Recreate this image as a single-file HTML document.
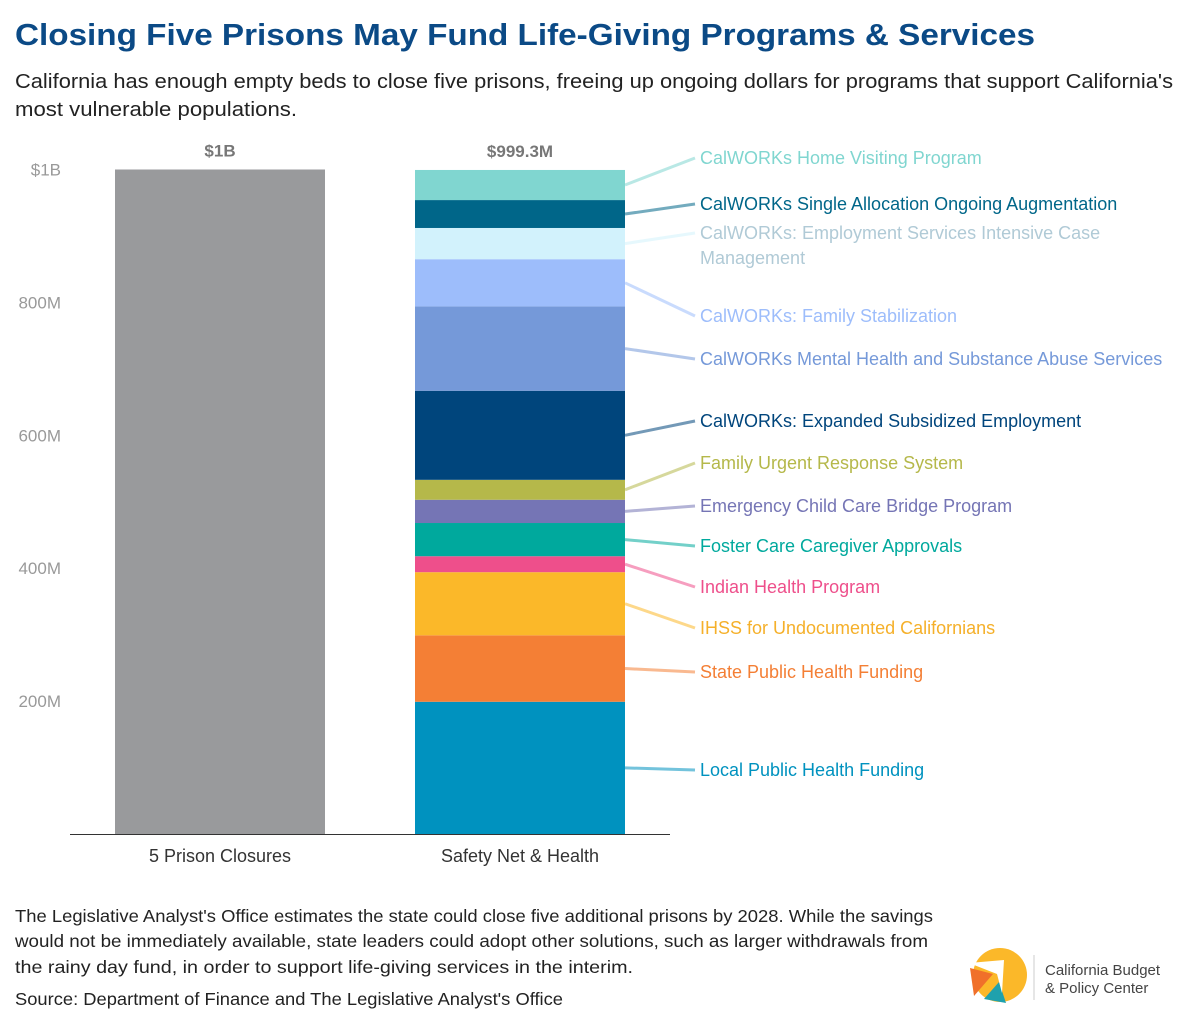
<!DOCTYPE html>
<html><head><meta charset="utf-8"><style>
html,body{margin:0;padding:0;background:#fff;}
svg{display:block;font-family:"Liberation Sans",sans-serif;}
</style></head><body>
<svg id="chart" width="1200" height="1026" viewBox="0 0 1200 1026" xmlns="http://www.w3.org/2000/svg">
<text x="15" y="45" font-size="31" font-weight="bold" fill="#0b4a86" textLength="1020" lengthAdjust="spacingAndGlyphs">Closing Five Prisons May Fund Life-Giving Programs &amp; Services</text>
<text x="15" y="88" font-size="20" fill="#222" textLength="1158" lengthAdjust="spacingAndGlyphs">California has enough empty beds to close five prisons, freeing up ongoing dollars for programs that support California's</text>
<text x="15" y="116" font-size="20" fill="#222" textLength="282" lengthAdjust="spacingAndGlyphs">most vulnerable populations.</text>
<g id="axis"></g>
<g id="bars"></g>
<g id="labels"></g>
<line x1="70" y1="834.5" x2="670" y2="834.5" stroke="#333" stroke-width="1"/>
<text x="220" y="862" font-size="18" fill="#333" text-anchor="middle">5 Prison Closures</text>
<text x="520" y="862" font-size="18" fill="#333" text-anchor="middle">Safety Net &amp; Health</text>
<text x="15" y="922" font-size="17.5" fill="#222" textLength="918" lengthAdjust="spacingAndGlyphs">The Legislative Analyst's Office estimates the state could close five additional prisons by 2028. While the savings</text>
<text x="15" y="947" font-size="17.5" fill="#222" textLength="913" lengthAdjust="spacingAndGlyphs">would not be immediately available, state leaders could adopt other solutions, such as larger withdrawals from</text>
<text x="15" y="973" font-size="17.5" fill="#222" textLength="618" lengthAdjust="spacingAndGlyphs">the rainy day fund, in order to support life-giving services in the interim.</text>
<text x="15" y="1005" font-size="17.5" fill="#222" textLength="548" lengthAdjust="spacingAndGlyphs">Source: Department of Finance and The Legislative Analyst's Office</text>
<g>
<circle cx="1000" cy="975" r="27" fill="#fbb829"/>
<path d="M970 968 L993 974 L974 996 Z" fill="#f0702a"/>
<path d="M984 999 L999 982 L1006 1003 Z" fill="#1fa1ad"/>
<path d="M969 963 L1004 960 L1002 993 L997 974 Z" fill="#fff"/>
<line x1="1034" y1="955" x2="1034" y2="1000" stroke="#ccc" stroke-width="1"/>
<text x="1045" y="975" font-size="15" fill="#444">California Budget</text>
<text x="1045" y="993" font-size="15" fill="#444">&amp; Policy Center</text>
</g>
</svg>
<script>
const categories = ["5 Prison Closures","Safety Net & Health"];
const prisonValues = [1000];
const segNames = ["Local Public Health Funding","State Public Health Funding","IHSS for Undocumented Californians","Indian Health Program","Foster Care Caregiver Approvals","Emergency Child Care Bridge Program","Family Urgent Response System","CalWORKs: Expanded Subsidized Employment","CalWORKs Mental Health and Substance Abuse Services","CalWORKs: Family Stabilization","CalWORKs: Employment Services Intensive Case Management","CalWORKs Single Allocation Ongoing Augmentation","CalWORKs Home Visiting Program"];
const segValues = [199,100,95,24,50,35,30,134,127,71,47,42,45.3];
const yTicks = [200,400,600,800,1000];
const yTickLabels = ["200M","400M","600M","800M","$1B"];
const totalLabels = ["$1B","$999.3M"];

const colors = ["#0092bf","#f47f35","#fbb829","#ee4f8b","#00a99d","#7575b5","#b5b84a","#00457c","#7599d9","#9dbdfb","#d2f2fc","#006689","#80d6d0"];
const textColors = ["#0092bf","#f47f35","#f5b02a","#ee4f8b","#00a99d","#7575b5","#b5b84a","#00457c","#7599d9","#9dbdfb","#b0cad6","#006689","#80d6d0"];
const labelY = [770,672,628,587,546,506,463,421,359,316,233,204,158];
const NS="http://www.w3.org/2000/svg";
const y0=834, pxPerM=0.6645;
const yScale=v=>y0-v*pxPerM;
const xBand=i=>[115,415][i];
const bw=210;
function mk(tag,attrs,parent){const e=document.createElementNS(NS,tag);for(const k in attrs)e.setAttribute(k,attrs[k]);parent.appendChild(e);return e;}
const axis=document.getElementById('axis'),bars=document.getElementById('bars'),labels=document.getElementById('labels');
yTicks.forEach((t,i)=>{
  const e=mk('text',{x:61,y:yScale(t)+6,'font-size':17,fill:'#999','text-anchor':'end'},axis);
  e.textContent=yTickLabels[i];
  
  
});
const pb=mk('rect',{x:xBand(0),y:yScale(prisonValues[0]),width:bw,height:prisonValues[0]*pxPerM,fill:'#999a9c'},bars);


const total=segValues.reduce((a,b)=>a+b,0);
[prisonValues[0],total].forEach((v,i)=>{
  const e=mk('text',{x:xBand(i)+bw/2,y:yScale(v)-13,'font-size':17,'font-weight':'bold',fill:'#777','text-anchor':'middle'},bars);
  e.textContent=totalLabels[i];
  
  
});
let cum=0;
segValues.forEach((v,i)=>{
  const top=yScale(cum+v), bot=yScale(cum);
  const r=mk('rect',{x:xBand(1),y:top,width:bw,height:bot-top,fill:colors[i]},bars);
  
  
  const mid=(top+bot)/2;
  const l=mk('line',{x1:xBand(1)+bw,y1:mid,x2:695,y2:labelY[i],stroke:colors[i],'stroke-width':3,'stroke-opacity':0.55},labels);
  
  
  const t=mk('text',{x:700,y:labelY[i]+6,'font-size':18,fill:textColors[i]},labels);
  
  
  if(i===10){
    const a=mk('tspan',{x:700},t);a.textContent="CalWORKs: Employment Services Intensive Case";
    const b=mk('tspan',{x:700,dy:25},t);b.textContent="Management";
  } else t.textContent=segNames[i];
  cum+=v;
});
</script>
</body></html>
